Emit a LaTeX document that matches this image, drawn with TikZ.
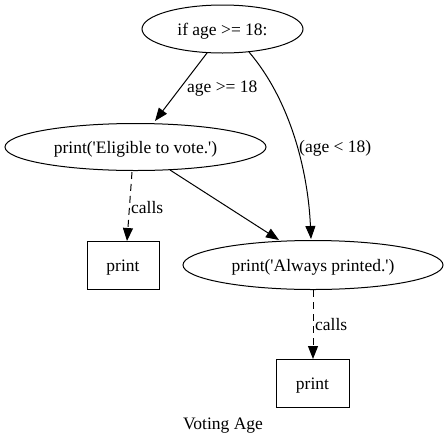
\documentclass[tikz,border=0pt]{standalone}
\usepackage{fontspec}
\setmainfont{Liberation Serif}
\usetikzlibrary{shapes.geometric,arrows.meta}
\newcommand{\sq}{\textquotesingle}
\begin{document}
\begin{tikzpicture}[x=1pt,y=-1pt,
  every node/.style={font=\fontsize{17.5}{20}\selectfont, inner sep=0pt},
  base/.style={text height=13pt, text depth=0pt},
  ell/.style={base, draw, ellipse, line width=1pt},
  boxn/.style={base, draw, rectangle, line width=1pt, minimum width=72pt, minimum height=48pt},
  edge/.style={line width=1pt, -{Triangle[length=13pt,width=10pt]}},
  calledge/.style={edge, dash pattern=on 7pt off 5pt},
  lab/.style={anchor=west}]
\useasboundingbox (0,0) rectangle (447,445);
\node[ell, minimum width=161pt, minimum height=48pt] (top) at (222.5,29) {if age >= 18:};
\node[ell, minimum width=261pt, minimum height=47pt] (elig) at (135.5,147) {print(\sq Eligible to vote.\sq)};
\node[ell, minimum width=260pt, minimum height=49pt] (always) at (313,265) {print(\sq Always printed.\sq)};
\node[boxn] (p1) at (123,265) {print};
\node[boxn, minimum width=73pt] (p2) at (312.5,383) {print};
\node[base] (title) at (223,423) {Voting Age};
\coordinate (t1) at (207,53);
\coordinate (e1) at (155,121);
\coordinate (t2) at (249,52);
\coordinate (a2) at (311,239);
\coordinate (e3) at (170,170);
\coordinate (a3) at (279,240);
\coordinate (e4) at (132,172);
\coordinate (p1t) at (127,241);
\coordinate (a5) at (313,290);
\coordinate (p2t) at (313,359);
\draw[edge] (t1) -- (e1);
\node[lab] (l1) at (187,89) {age >= 18};
\draw[edge] (t2) .. controls (290,100) and (308,170) .. (a2);
\node[lab] (l2) at (299,148) {(age < 18)};
\draw[edge] (e3) -- (a3);
\draw[calledge] (e4) -- (p1t);
\node[lab] (l3) at (131,208) {calls};
\draw[calledge] (a5) -- (p2t);
\node[lab] (l4) at (315,325) {calls};
\end{tikzpicture}
\end{document}
